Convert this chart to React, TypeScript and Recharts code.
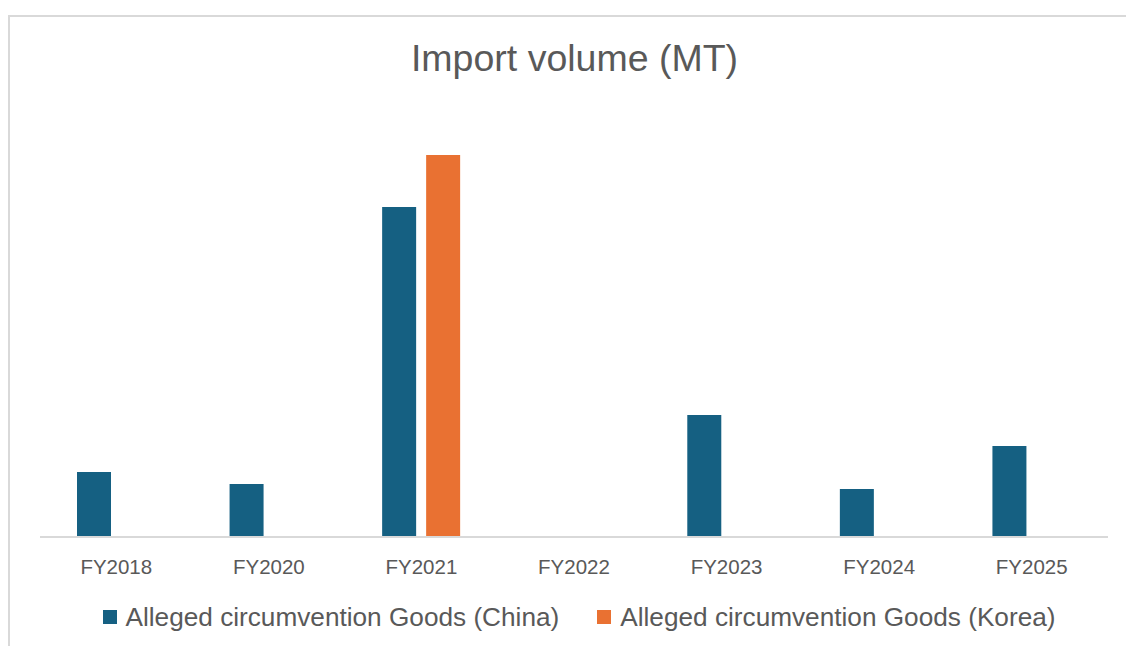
import React from "react";
import { BarChart, Bar, XAxis, YAxis, Legend } from "recharts";

const categories = ["FY2018", "FY2020", "FY2021", "FY2022", "FY2023", "FY2024", "FY2025"];
const chinaValues: (number | null)[] = [65, 53, 330, null, 122, 48, 91];
const koreaValues: (number | null)[] = [null, null, 382, null, null, null, null];
const seriesNames = ["Alleged circumvention Goods (China)", "Alleged circumvention Goods (Korea)"];
const seriesColors = ["#156082", "#E97132"];

const data = categories.map((c, i) => ({ name: c, china: chinaValues[i], korea: koreaValues[i] }));

const FONT = "'Liberation Sans', Arial, sans-serif";

const LegendContent = () => (
  <div
    style={{
      display: "flex",
      justifyContent: "center",
      alignItems: "center",
      height: 30,
      fontFamily: FONT,
      paddingLeft: 10,
    }}
  >
    {seriesNames.map((n, i) => (
      <div key={n} style={{ display: "flex", alignItems: "center", marginRight: i === 0 ? 38 : 0 }}>
        <span style={{ width: 14, height: 14, background: seriesColors[i], display: "inline-block", marginRight: 9 }} />
        <span style={{ fontSize: 26.2, color: "#595959" }}>{n}</span>
      </div>
    ))}
  </div>
);

export default function App() {
  return (
    <div
      style={{
        position: "fixed",
        left: 8,
        top: 15,
        width: 1118,
        height: 631,
        borderLeft: "2px solid #d9d9d9",
        borderTop: "2px solid #d9d9d9",
        background: "#fff",
        boxSizing: "border-box",
      }}
    >
      <div
        style={{
          position: "absolute",
          left: 0,
          right: 0,
          top: 20,
          paddingLeft: 13,
          textAlign: "center",
          fontFamily: FONT,
          fontSize: 37.5,
          color: "#595959",
          lineHeight: "normal",
        }}
      >
        Import volume (MT)
      </div>
      <div style={{ position: "absolute", left: -2, top: -2 }}>
        <BarChart
          width={1118}
          height={631}
          data={data}
          margin={{ top: 122, right: 18, left: 32, bottom: 14 }}
          barSize={34}
          barGap={10}
        >
          <XAxis
            dataKey="name"
            height={65}
            tickLine={false}
            tickSize={0}
            tickMargin={22}
            axisLine={{ stroke: "#d9d9d9", strokeWidth: 2 }}
            tick={{ fill: "#595959", fontSize: 20.5, fontFamily: FONT }}
            interval={0}
          />
          <YAxis hide domain={[0, 400]} />
          <Legend verticalAlign="bottom" height={30} content={<LegendContent />} />
          <Bar dataKey="china" name={seriesNames[0]} fill={seriesColors[0]} isAnimationActive={false} />
          <Bar dataKey="korea" name={seriesNames[1]} fill={seriesColors[1]} isAnimationActive={false} />
        </BarChart>
      </div>
    </div>
  );
}
